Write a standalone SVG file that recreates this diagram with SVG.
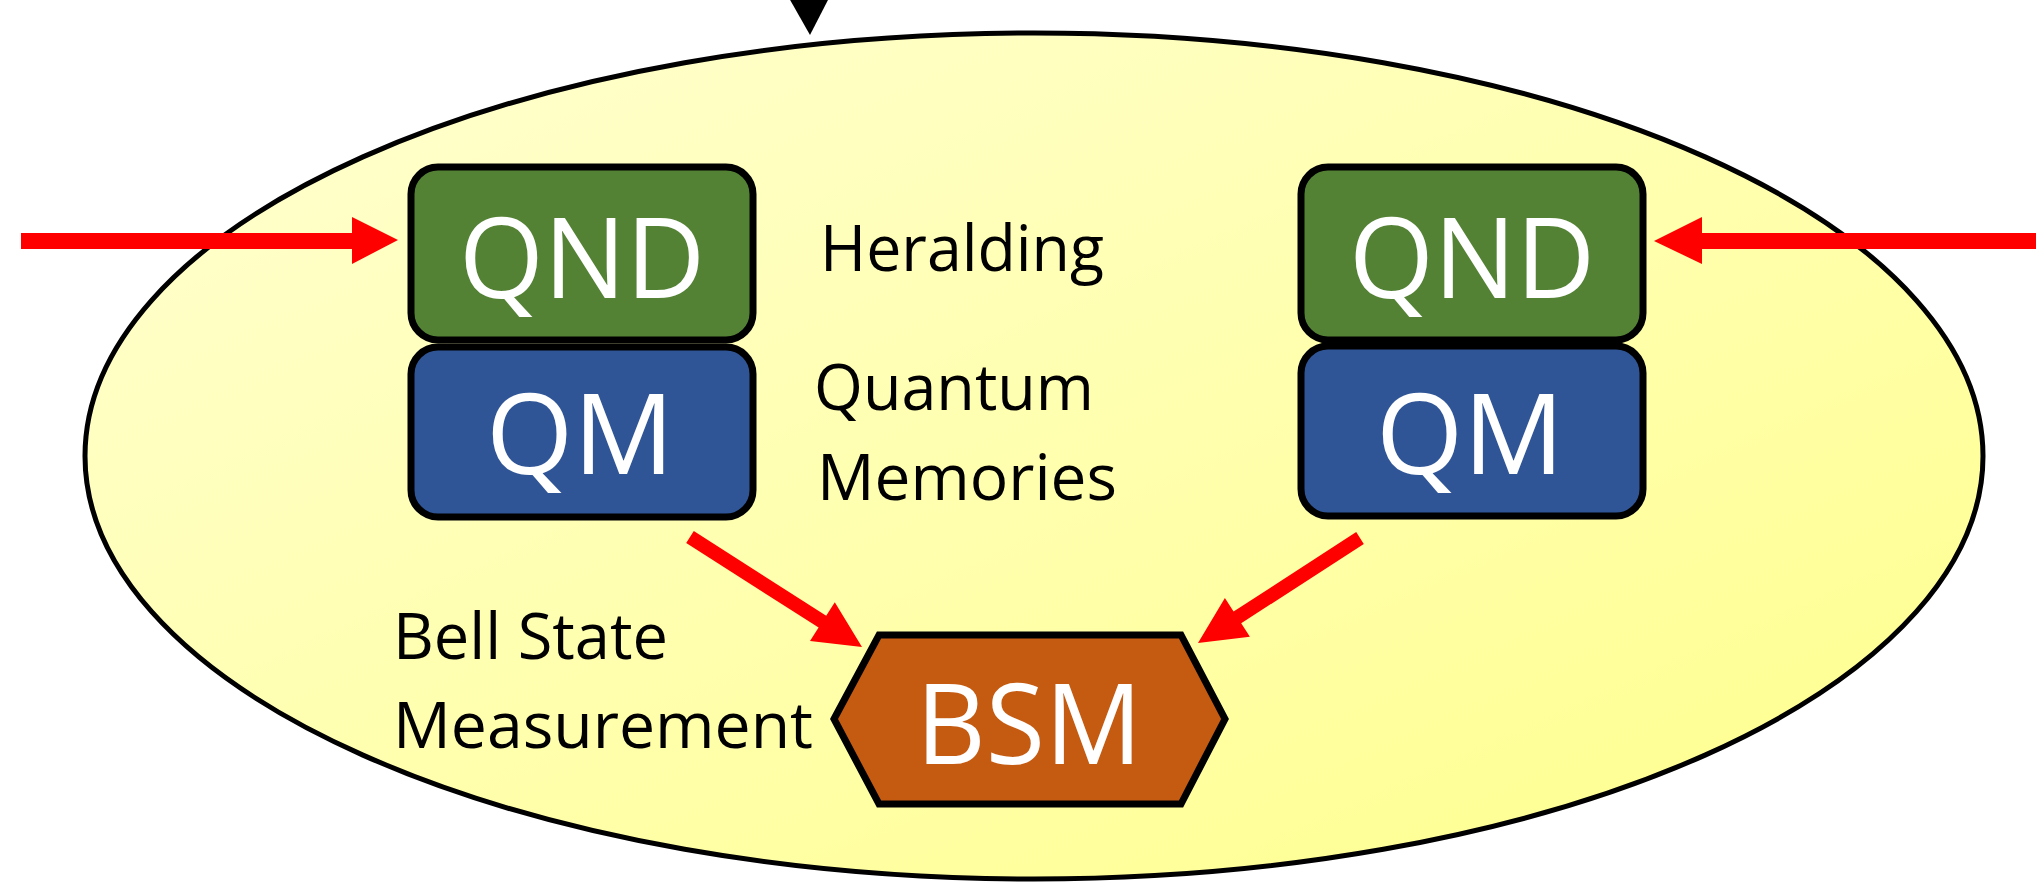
<svg xmlns="http://www.w3.org/2000/svg" width="2036" height="883" viewBox="0 0 2036 883">
  <defs>
    <linearGradient id="ellFill" x1="0" y1="0" x2="1" y2="1">
      <stop offset="0" stop-color="#FFFFD2"/>
      <stop offset="1" stop-color="#FFFF8C"/>
    </linearGradient>
    <style>
      .box { stroke: #000; stroke-width: 7; }
      .qnd { fill: #548235; }
      .qm { fill: #2F5597; }
      .bsm { fill: #C55A11; stroke: #000; stroke-width: 7; stroke-linejoin: miter; }
      .boxtxt { font-family: "Open Sans", "Liberation Sans", sans-serif; font-size: 112px; fill: #FFFFFF; text-anchor: middle; }
      .lbl { font-family: "Open Sans", "Liberation Sans", sans-serif; font-size: 64px; fill: #000000; }
      .red { fill: #FF0000; }
    </style>
  </defs>
  <rect width="2036" height="883" fill="#FFFFFF"/>

  <g id="node-ellipse">
    <ellipse cx="1034" cy="456" rx="949" ry="423" fill="url(#ellFill)" stroke="#000" stroke-width="5"/>
  </g>

  <g id="node-top-arrowhead">
    <polygon points="789,-2 829,-2 810,35" fill="#000"/>
  </g>

  <g id="node-qnd-left">
    <rect class="box qnd" x="411" y="167" width="342" height="173" rx="27" ry="27"/>
    <text class="boxtxt" x="582" y="298" textLength="246" lengthAdjust="spacingAndGlyphs">QND</text>
  </g>
  <g id="node-qm-left">
    <rect class="box qm" x="411" y="347" width="342" height="170" rx="27" ry="27"/>
    <text class="boxtxt" x="580" y="474" textLength="188" lengthAdjust="spacingAndGlyphs">QM</text>
  </g>

  <g id="node-qnd-right">
    <rect class="box qnd" x="1301" y="167" width="342" height="173" rx="27" ry="27"/>
    <text class="boxtxt" x="1472" y="298" textLength="246" lengthAdjust="spacingAndGlyphs">QND</text>
  </g>
  <g id="node-qm-right">
    <rect class="box qm" x="1301" y="346" width="342" height="170" rx="27" ry="27"/>
    <text class="boxtxt" x="1470" y="474" textLength="188" lengthAdjust="spacingAndGlyphs">QM</text>
  </g>

  <g id="node-bsm">
    <polygon class="bsm" points="834,719 879,635 1181,635 1225,719 1181,804 879,804"/>
    <text class="boxtxt" x="1029" y="764" textLength="226" lengthAdjust="spacingAndGlyphs">BSM</text>
  </g>

  <g id="labels">
    <text class="lbl" x="820" y="271" textLength="284" lengthAdjust="spacingAndGlyphs">Heralding</text>
    <text class="lbl" x="814" y="410" textLength="280" lengthAdjust="spacingAndGlyphs">Quantum</text>
    <text class="lbl" x="817" y="500" textLength="300" lengthAdjust="spacingAndGlyphs">Memories</text>
    <text class="lbl" x="393" y="659" textLength="275" lengthAdjust="spacingAndGlyphs">Bell State</text>
    <text class="lbl" x="393" y="748" textLength="420" lengthAdjust="spacingAndGlyphs">Measurement</text>
  </g>

  <g id="connectors">
    <polygon class="red" points="21,233 352,233 352,217 398,240 352,264 352,249 21,249"/>
    <polygon class="red" points="2036,233 1702,233 1702,217 1654,241 1702,264 1702,249 2036,249"/>
    <polygon class="red" points="686.2,542.9 818.6,627.6 810.0,641.1 862,647 834.8,602.3 826.2,615.8 693.8,531.1"/>
    <polygon class="red" points="1356.2,532.1 1233.6,611.5 1224.9,598.1 1198,643 1249.9,636.7 1241.2,623.3 1363.8,543.9"/>
  </g>
</svg>
